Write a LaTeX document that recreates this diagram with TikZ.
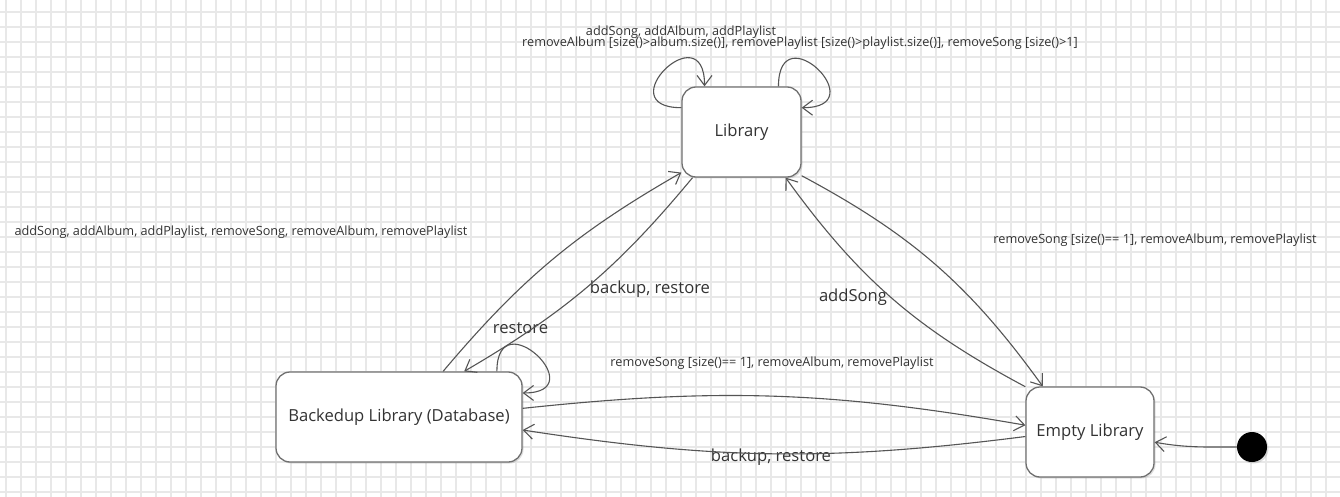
\documentclass[tikz,border=0pt]{standalone}
\usepackage{fontspec}
\setmainfont{Open Sans}
\usetikzlibrary{arrows.meta,shadows}

\definecolor{gridgray}{HTML}{E8E8E8}
\definecolor{linegray}{HTML}{555555}
\definecolor{boxgray}{HTML}{707070}
\definecolor{txtgray}{HTML}{333333}

\begin{document}
\begin{tikzpicture}[x=1pt, y=1pt,
	state/.style={draw=boxgray, line width=1.3pt, fill=white, rounded corners=14pt, minimum height=90pt, text=txtgray, font=\fontsize{16.6}{20}\selectfont, drop shadow={shadow xshift=1.5pt, shadow yshift=-1.5pt, opacity=0.25}},
	trans/.style={draw=linegray, line width=1.1pt, -{Straight Barb[length=10pt, width=15pt, line width=1.1pt]}},
	small/.style={text=txtgray, font=\fontsize{12.7}{15}\selectfont, inner sep=0pt},
	big/.style={text=txtgray, font=\fontsize{16.6}{20}\selectfont, inner sep=0pt}]
	\useasboundingbox (0,0) rectangle (1340,-497);
	\fill[white] (0,0) rectangle (1340,-497);
	\draw[gridgray, line width=1.4pt, shift={(6,-12)}, step=15] (-6,12) grid (1334,-485);

	\node[state, minimum width=119pt] (lib) at (741.5,-132) {Library};
	\node[state, minimum width=246pt] (bak) at (399,-417) {Backedup Library (Database)};
	\node[state, minimum width=128pt] (emp) at (1090,-432) {Empty Library};
	\node[circle, fill=black, minimum size=30pt, inner sep=0pt, drop shadow={shadow xshift=1.5pt, shadow yshift=-1.5pt, opacity=0.25}] (init) at (1252,-447) {};

	\node[small] (lbladd) at (681,-32) {addSong, addAlbum, addPlaylist};
	\node[small] (lblremove) at (800,-43) {removeAlbum [size()>album.size()], removePlaylist [size()>playlist.size()], removeSong [size()>1]};
	\node[small] (lblall) at (241,-232) {addSong, addAlbum, addPlaylist, removeSong, removeAlbum, removePlaylist};
	\node[small] (lblempty) at (1155,-240) {removeSong [size()== 1], removeAlbum, removePlaylist};
	\node[small] (lbltoempty) at (772,-363) {removeSong [size()== 1], removeAlbum, removePlaylist};
	\node[big] (lblbackup) at (650,-289) {backup, restore};
	\node[big] (lblrestore) at (520.5,-328) {restore};
	\node[big] (lbladdsong) at (853,-297) {addSong};
	\node[big] (lblbackupb) at (771,-457) {backup, restore};

	\draw[trans] (lib.158) .. controls +(-74,0) and +(0,74) .. (lib.129);
	\draw[trans] (lib.51) .. controls +(0,74) and +(74,0) .. (lib.22);
	\draw[trans] (bak.25) .. controls +(0,72) and +(72,0) .. (bak.11);
	\draw[trans] (bak.46) to[bend left=10] (lib.-146);
	\draw[trans] (lib.-137) to[bend left=10] (bak.35);
	\draw[trans] (lib.-36) to[bend left=13] (emp.136);
	\draw[trans] (emp.145) to[bend left=13] (lib.-46);
	\draw[trans] (bak.4) to[bend left=8] (emp.174);
	\draw[trans] (emp.-176) to[bend left=8] (bak.-6);
	\draw[trans] (init.west) to[out=180, in=-10] (emp.-9);
\end{tikzpicture}
\end{document}
